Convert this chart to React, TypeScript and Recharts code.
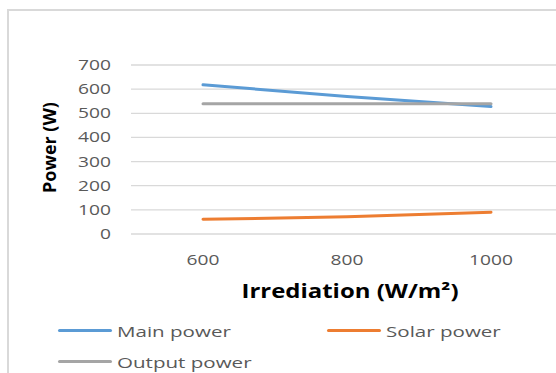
import React from 'react';
import { LineChart, Line, XAxis, YAxis, CartesianGrid } from 'recharts';

// irradiance levels (W/m2) and the three power series (W)
const irradiation = ['600', '800', '1000'];
const mainPower = [618, 570, 528];
const solarPower = [61, 71, 90];
const outputPower = [540, 540, 540];
const yTicks = [0, 100, 200, 300, 400, 500, 600, 700];

const SERIES = [
  { key: 'main', name: 'Main power', color: '#5B9BD5', values: mainPower },
  { key: 'solar', name: 'Solar power', color: '#ED7D31', values: solarPower },
  { key: 'output', name: 'Output power', color: '#A5A5A5', values: outputPower },
];

const data = irradiation.map((x, i) => ({
  x,
  main: mainPower[i],
  solar: solarPower[i],
  output: outputPower[i],
}));

const FONT = '"Open Sans", "DejaVu Sans", sans-serif';
const TEXT = '#595959';
const STRETCH = 1.37;

const YTick = ({ x, y, payload }: any) => (
  <text
    transform={`translate(${x},${y}) scale(${STRETCH},1)`}
    textAnchor="end"
    dy="0.36em"
    fill={TEXT}
    fontSize={14}
    fontFamily={FONT}
  >
    {payload.value}
  </text>
);

const XTick = ({ x, y, payload }: any) => (
  <text
    transform={`translate(${x},${y}) scale(${STRETCH},1)`}
    textAnchor="middle"
    dy="0.36em"
    fill={TEXT}
    fontSize={14}
    fontFamily={FONT}
  >
    {payload.value}
  </text>
);

const XTitle = ({ viewBox }: any) => {
  const vb = viewBox || { x: 131, y: 234, width: 432, height: 40 };
  const cx = vb.x + vb.width / 2 + 3;
  return (
    <text
      transform={`translate(${cx},${vb.y + 64}) scale(1.26,1)`}
      textAnchor="middle"
      fill="#000"
      fontSize={19}
      fontWeight={700}
      fontFamily={FONT}
    >
      Irrediation (W/m²)
    </text>
  );
};

const YTitle = ({ viewBox }: any) => {
  const vb = viewBox || { x: 0, y: 65, width: 131, height: 169 };
  const cx = vb.x + 50;
  const cy = vb.y + vb.height / 2 - 2;
  return (
    <text
      transform={`translate(${cx},${cy}) rotate(-90)`}
      textAnchor="middle"
      dy="0.36em"
      fill="#000"
      fontSize={18}
      fontWeight={700}
      fontFamily={FONT}
    >
      Power (W)
    </text>
  );
};

const LegendItem = ({ name, color }: { name: string; color: string }) => (
  <div style={{ display: 'flex', alignItems: 'center', height: 31 }}>
    <span
      style={{
        display: 'inline-block',
        width: 54,
        height: 3,
        borderRadius: 2,
        background: color,
        marginRight: 5,
      }}
    />
    <span
      style={{
        display: 'inline-block',
        transform: `scaleX(${STRETCH})`,
        transformOrigin: 'left center',
        fontSize: 15,
        fontFamily: FONT,
        color: TEXT,
        whiteSpace: 'nowrap',
      }}
    >
      {name}
    </span>
  </div>
);

export default function App() {
  return (
    <div
      style={{
        position: 'absolute',
        left: 0,
        top: 0,
        width: 556,
        height: 373,
        overflow: 'hidden',
        background: '#fff',
      }}
    >
      <div
        style={{
          position: 'absolute',
          left: 7,
          top: 9,
          width: 620,
          height: 420,
          border: '2px solid #d9d9d9',
        }}
      />
      <div style={{ position: 'absolute', left: 0, top: 0 }}>
        <LineChart
          width={600}
          height={373}
          data={data}
          margin={{ top: 65, right: 37, bottom: 99, left: 0 }}
        >
          <CartesianGrid horizontal vertical={false} stroke="#d9d9d9" strokeWidth={1.3} />
          <XAxis
            dataKey="x"
            type="category"
            scale="band"
            axisLine={false}
            tickLine={false}
            tickSize={0}
            tickMargin={26}
            height={40}
            tick={<XTick />}
            label={<XTitle />}
          />
          <YAxis
            domain={[0, 700]}
            ticks={yTicks}
            interval={0}
            axisLine={false}
            tickLine={false}
            tickSize={0}
            tickMargin={20}
            width={131}
            tick={<YTick />}
            label={<YTitle />}
          />
          {SERIES.map((s) => (
            <Line
              key={s.key}
              type="linear"
              dataKey={s.key}
              name={s.name}
              stroke={s.color}
              strokeWidth={3}
              strokeLinecap="round"
              dot={false}
              activeDot={false}
              isAnimationActive={false}
            />
          ))}
        </LineChart>
      </div>
      <div style={{ position: 'absolute', left: 58, top: 315, width: 498 }}>
        <div style={{ display: 'flex' }}>
          <div style={{ width: 269 }}>
            <LegendItem name={SERIES[0].name} color={SERIES[0].color} />
          </div>
          <div>
            <LegendItem name={SERIES[1].name} color={SERIES[1].color} />
          </div>
        </div>
        <LegendItem name={SERIES[2].name} color={SERIES[2].color} />
      </div>
    </div>
  );
}
